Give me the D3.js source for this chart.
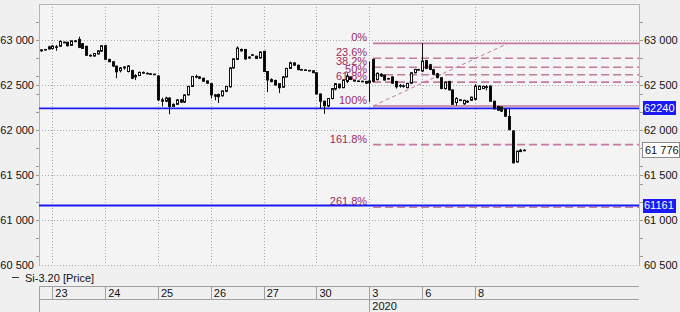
<!DOCTYPE html>
<html>
<head>
<meta charset="utf-8">
<script src="https://cdn.jsdelivr.net/npm/d3@7"></script>
<style>
  body { margin: 0; background: #f0f0f0; }
  svg { display: block; font-family: "Liberation Sans", Arial, sans-serif; }
</style>
</head>
<body>
<div class="candleChart"></div>
<script>
// time axis: day labels and the candle index where each day begins
const dayLabels = ["23", "24", "25", "26", "27", "30", "3", "6", "8"];
const dayStarts = [3, 17, 31, 45, 59, 73, 87, 101, 115];
const yearLabel = "2020";
const yearStart = 87;

const priceTicks = [63000, 62500, 62000, 61500, 61000, 60500];

// hourly candles
const opens = [
  62880,62890,62900,62905,62925,62930,62975,62975,62940,62990,
  63007,62960,62930,62830,62822,62845,62875,62937,62785,62758,
  62710,62660,62690,62650,62660,62590,62605,62640,62630,62625,
  62620,62600,62335,62320,62355,62262,62285,62335,62310,62390,
  62484,62595,62590,62575,62545,62515,62390,62395,62380,62430,
  62480,62690,62785,62880,62895,62800,62830,62820,62800,62874,
  62650,62560,62550,62515,62475,62590,62684,62745,62720,62670,
  62668,62662,62658,62636,62400,62320,62265,62350,62455,62510,
  62470,62540,62590,62550,62545,62542,62540,62525,62785,62560,
  62620,62610,62570,62590,62540,62490,62490,62470,62520,62636,
  62668,62655,62770,62725,62670,62625,62580,62460,62540,62445,
  62305,62330,62290,62320,62330,62340,62450,62460,62480,62488,
  62320,62262,62255,62228,62150,61990,61645,61760,61770];
const highs = [
  62900,62900,62936,62944,62944,62995,62985,62980,62995,63000,
  63037,62965,62935,62840,62855,62885,62940,62945,62790,62762,
  62715,62700,62710,62720,62670,62620,62650,62650,62640,62630,
  62625,62610,62360,62370,62365,62295,62345,62345,62395,62490,
  62600,62615,62600,62580,62550,62520,62400,62405,62440,62490,
  62700,62800,62930,62905,62900,62820,62845,62825,62875,62880,
  62655,62575,62560,62520,62600,62690,62760,62755,62725,62680,
  62672,62668,62662,62642,62405,62325,62355,62465,62520,62515,
  62560,62630,62595,62555,62550,62548,62545,62760,62790,62640,
  62630,62615,62580,62595,62545,62510,62505,62525,62640,62680,
  62680,62965,62780,62735,62680,62635,62590,62540,62545,62450,
  62365,62340,62335,62330,62370,62510,62495,62490,62500,62495,
  62325,62268,62262,62235,62245,61995,61770,61790,61785];
const lows = [
  62870,62885,62895,62895,62880,62925,62965,62930,62935,62975,
  62910,62900,62825,62815,62815,62840,62870,62780,62755,62705,
  62575,62640,62670,62640,62565,62555,62600,62625,62620,62615,
  62612,62320,62260,62310,62175,62255,62280,62300,62300,62385,
  62480,62575,62565,62535,62515,62350,62330,62300,62370,62420,
  62470,62680,62780,62870,62780,62790,62825,62790,62795,62645,
  62420,62530,62495,62410,62470,62585,62680,62715,62665,62660,
  62660,62655,62632,62395,62240,62180,62255,62340,62440,62460,
  62465,62520,62555,62538,62538,62535,62515,62310,62530,62550,
  62590,62550,62565,62515,62460,62470,62470,62465,62515,62630,
  62660,62645,62675,62665,62615,62575,62455,62450,62440,62280,
  62270,62320,62280,62300,62325,62330,62445,62455,62440,62315,
  62230,62215,62200,62150,61995,61630,61640,61755,61765];
const closes = [
  62890,62895,62925,62933,62920,62985,62970,62936,62990,62982,
  62918,62907,62830,62825,62850,62880,62937,62785,62758,62710,
  62647,62690,62700,62712,62575,62605,62640,62632,62625,62620,
  62615,62335,62320,62355,62262,62285,62335,62310,62390,62484,
  62595,62590,62575,62542,62520,62390,62375,62370,62435,62484,
  62690,62790,62910,62895,62790,62810,62836,62795,62866,62650,
  62556,62538,62500,62470,62590,62684,62747,62720,62670,62672,
  62665,62660,62636,62400,62320,62270,62350,62460,62515,62470,
  62555,62600,62562,62545,62542,62540,62520,62545,62540,62630,
  62600,62555,62572,62520,62480,62495,62488,62518,62636,62673,
  62672,62766,62685,62672,62620,62582,62460,62532,62445,62285,
  62350,62335,62330,62310,62365,62488,62488,62485,62475,62320,
  62235,62220,62210,62153,62005,61635,61765,61775,61776];

// horizontal levels and last price
const levelLines = [62240, 61161];
const lastPrice = 61776;

// fibonacci retracement drawn on the chart
const fibHigh = 62962;
const fibLow = 62267;
const fibLevels = [0, 23.6, 38.2, 50, 61.8, 100, 161.8, 261.8];
const fibStart = 88;
const fibTrend = [88, 123.7];

class CandleChart {

    constructor(selector){
        this.selector = selector;
        this.width = 680;
        this.height = 312;
        this.plot = {left: 39, right: 639, top: 4, bottom: 265};
        this.fibColor = "#c27a9e";
        this.fibText = "#9e2a5e";
        this.blue = "#1a1af5";
        this.grid = "#a8a8a8";
        this.fmt = d3.formatLocale({decimal: ".", thousands: " ", grouping: [3], currency: ["", ""]}).format(",");
    }

    draw(){
        d3.select(this.selector).select("svg").remove();
        this.svg = d3.select(this.selector).append("svg")
            .attr("width", this.width)
            .attr("height", this.height);

        // index -> x, price -> y
        this.x = d3.scaleLinear().domain([3, 115]).range([52.3, 475]);
        this.y = d3.scaleLinear().domain([60500, 63000]).range([265, 40]);

        this.drawFrame();
        this.drawFib();
        this.drawLevels();
        this.drawCandles();
        this.drawPriceAxes();
        this.drawTimeAxis();
        this.drawLegend();
    }

    px(v){ return Math.round(v) + 0.5; }

    drawFrame(){
        const p = this.plot;
        this.svg.append("rect").attr("width", this.width).attr("height", this.height).attr("fill", "#f0f0f0");
        this.svg.append("rect")
            .attr("x", p.left).attr("y", p.top)
            .attr("width", p.right - p.left).attr("height", p.bottom - p.top)
            .attr("fill", "#f4f4f4");

        // dotted grid
        const g = this.svg.append("g").attr("stroke", this.grid).attr("stroke-dasharray", "1,2");
        g.selectAll("line.h").data(priceTicks).join("line")
            .attr("x1", p.left).attr("x2", p.right)
            .attr("y1", d => this.px(this.y(d))).attr("y2", d => this.px(this.y(d)));
        g.selectAll("line.v").data(dayStarts).join("line")
            .attr("x1", d => this.px(this.x(d))).attr("x2", d => this.px(this.x(d)))
            .attr("y1", p.top).attr("y2", p.bottom);

        // border
        const b = this.svg.append("g").attr("stroke", "#b4b4b4");
        b.append("line").attr("x1", p.left).attr("x2", p.right).attr("y1", p.top + 0.5).attr("y2", p.top + 0.5);
        b.append("line").attr("x1", p.left + 0.5).attr("x2", p.left + 0.5).attr("y1", p.top).attr("y2", p.bottom + 1);
        b.append("line").attr("x1", p.right + 0.5).attr("x2", p.right + 0.5).attr("y1", p.top).attr("y2", p.bottom + 1);
    }

    drawFib(){
        const p = this.plot;
        const range = fibHigh - fibLow;
        const x0 = this.x(fibStart);
        const g = this.svg.append("g");

        g.selectAll("line").data(fibLevels).join("line")
            .attr("x1", x0).attr("x2", p.right)
            .attr("y1", d => this.y(fibHigh - d / 100 * range))
            .attr("y2", d => this.y(fibHigh - d / 100 * range))
            .attr("stroke", this.fibColor)
            .attr("stroke-width", 1.6)
            .attr("stroke-dasharray", d => (d === 0 || d === 100) ? null : "8,4");

        g.selectAll("text").data(fibLevels).join("text")
            .attr("x", x0 - 6)
            .attr("y", d => this.y(fibHigh - d / 100 * range) - 2)
            .attr("text-anchor", "end")
            .attr("font-size", "11px")
            .attr("fill", this.fibText)
            .text(d => d + "%");

        // trend line of the retracement
        g.append("line")
            .attr("x1", this.x(fibTrend[0])).attr("y1", this.y(fibLow))
            .attr("x2", this.x(fibTrend[1])).attr("y2", this.y(fibHigh))
            .attr("stroke", this.fibColor)
            .attr("stroke-dasharray", "4,3");
    }

    drawLevels(){
        const p = this.plot;
        this.svg.append("g").selectAll("line").data(levelLines).join("line")
            .attr("x1", p.left).attr("x2", p.right)
            .attr("y1", d => this.y(d)).attr("y2", d => this.y(d))
            .attr("stroke", this.blue)
            .attr("stroke-width", 1.8);
    }

    drawCandles(){
        const data = opens.map((o, i) => ({i: i, o: o, h: highs[i], l: lows[i], c: closes[i]}));
        const g = this.svg.append("g");
        const cx = d => this.px(this.x(d.i));

        g.selectAll("line").data(data).join("line")
            .attr("x1", cx).attr("x2", cx)
            .attr("y1", d => this.y(d.h)).attr("y2", d => this.y(d.l))
            .attr("stroke", "#111");

        g.selectAll("rect").data(data).join("rect")
            .attr("x", d => cx(d) - 1)
            .attr("width", 2)
            .attr("y", d => this.y(Math.max(d.o, d.c)))
            .attr("height", d => Math.max(0.6, Math.abs(this.y(d.o) - this.y(d.c))))
            .attr("fill", d => d.c >= d.o ? "#ffffff" : "#000000")
            .attr("stroke", "#111");
    }

    drawPriceAxes(){
        const p = this.plot;
        const minor = d3.range(60600, 63400, 100).filter(v => v % 200 === 0 || v % 500 === 0);

        // small ticks on both sides
        const t = this.svg.append("g").attr("stroke", "#9a9a9a");
        t.selectAll("line.l").data(minor).join("line")
            .attr("x1", p.left - 3).attr("x2", p.left)
            .attr("y1", d => this.px(this.y(d))).attr("y2", d => this.px(this.y(d)));
        t.selectAll("line.r").data(minor).enter().append("line")
            .attr("x1", p.right + 1).attr("x2", p.right + 4)
            .attr("y1", d => this.px(this.y(d))).attr("y2", d => this.px(this.y(d)));

        const lab = this.svg.append("g").attr("font-size", "11px").attr("fill", "#111");
        lab.selectAll("text.l").data(priceTicks).join("text")
            .attr("x", p.left - 5)
            .attr("y", d => this.y(d))
            .attr("dy", "0.35em")
            .attr("text-anchor", "end")
            .text(d => this.fmt(d));
        lab.selectAll("text.r").data(priceTicks).enter().append("text")
            .attr("x", p.right + 5)
            .attr("y", d => this.y(d))
            .attr("dy", "0.35em")
            .text(d => this.fmt(d));

        // boxes for the blue levels
        for(let v of levelLines){
            const yy = this.y(v);
            this.svg.append("rect")
                .attr("x", p.right + 4).attr("y", Math.round(yy) - 7)
                .attr("width", 33).attr("height", 14)
                .attr("fill", this.blue);
            this.svg.append("text")
                .attr("x", p.right + 5).attr("y", yy).attr("dy", "0.35em")
                .attr("font-size", "11px").attr("fill", "#ffffff")
                .text(v);
        }

        // last price box
        const ly = this.y(lastPrice);
        this.svg.append("rect")
            .attr("x", p.right + 3.5).attr("y", Math.round(ly) - 7.5)
            .attr("width", 37).attr("height", 15)
            .attr("fill", "#ffffff").attr("stroke", "#8c8c8c");
        this.svg.append("text")
            .attr("x", p.right + 6).attr("y", ly).attr("dy", "0.35em")
            .attr("font-size", "11px").attr("fill", "#111")
            .text(this.fmt(lastPrice));
    }

    drawTimeAxis(){
        const p = this.plot;
        const top = 286.5, mid = 299.5;
        const g = this.svg.append("g").attr("stroke", "#a0a0a0");
        g.append("line").attr("x1", p.left).attr("x2", p.right).attr("y1", top).attr("y2", top);
        g.append("line").attr("x1", p.left).attr("x2", p.right).attr("y1", mid).attr("y2", mid);
        g.append("line").attr("x1", p.left + 0.5).attr("x2", p.left + 0.5).attr("y1", top).attr("y2", 312);
        g.selectAll("line.d").data(dayStarts).enter().append("line")
            .attr("x1", d => this.px(this.x(d))).attr("x2", d => this.px(this.x(d)))
            .attr("y1", top).attr("y2", mid);
        g.append("line")
            .attr("x1", this.px(this.x(yearStart))).attr("x2", this.px(this.x(yearStart)))
            .attr("y1", mid).attr("y2", 312);

        const t = this.svg.append("g").attr("font-size", "11px").attr("fill", "#111");
        t.selectAll("text").data(dayStarts).join("text")
            .attr("x", d => this.x(d) + 3)
            .attr("y", 296.5)
            .text((d, k) => dayLabels[k]);
        t.append("text")
            .attr("x", this.x(yearStart) + 3)
            .attr("y", 309.5)
            .text(yearLabel);
    }

    drawLegend(){
        this.svg.append("line")
            .attr("x1", 12).attr("x2", 19).attr("y1", 277.5).attr("y2", 277.5)
            .attr("stroke", "#333");
        this.svg.append("text")
            .attr("x", 25).attr("y", 281.5)
            .attr("font-size", "11px").attr("fill", "#111")
            .text("Si-3.20 [Price]");
    }
}

new CandleChart(".candleChart").draw();
</script>
</body>
</html>
